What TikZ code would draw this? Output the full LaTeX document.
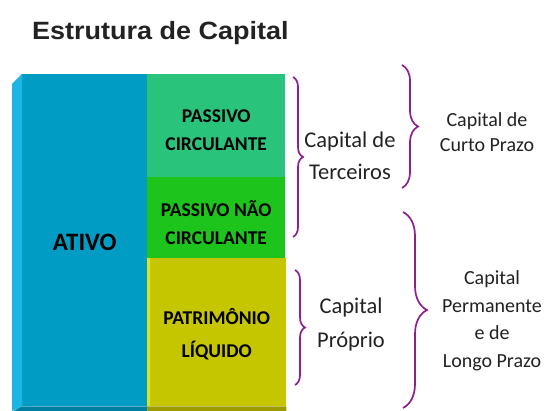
\documentclass[tikz,border=0pt]{standalone}
\usepackage{fontspec}
\setmainfont{Carlito}
\newfontfamily\titlefont{Liberation Sans}
\usetikzlibrary{decorations.pathreplacing}

\definecolor{ativoblue}{HTML}{009CC4}
\definecolor{ativolight}{HTML}{1CB6E4}
\definecolor{ativodark}{HTML}{007FA3}
\definecolor{pcgreen}{HTML}{2AC37C}
\definecolor{pncgreen}{HTML}{1CC41C}
\definecolor{plolive}{HTML}{C6C600}
\definecolor{pllight}{HTML}{E2E21A}
\definecolor{pldark}{HTML}{9C9C00}
\definecolor{bracepurple}{HTML}{8E1F8E}
\definecolor{textgray}{HTML}{222222}

\tikzset{
	block/.style={anchor=north west, inner sep=0pt},
	blocktext/.style={align=center, text=black, inner sep=0pt, font=\bfseries\fontsize{19.5}{28}\selectfont},
	bracket/.style={draw=bracepurple, line width=1.7pt, decorate, decoration={brace, amplitude=#1}},
	caption/.style={align=center, text=textgray, inner sep=0pt},
}

\begin{document}
\begin{tikzpicture}[x=1pt,y=-1pt]
	\useasboundingbox (0,0) rectangle (547,411);
	\node (title) [anchor=base west, inner sep=0pt, xscale=1.08, text=textgray, font=\titlefont\bfseries\fontsize{25}{30}\selectfont] at (32,40) {Estrutura de Capital};

	\node (ativo) [block, fill=ativoblue, minimum width=125pt, minimum height=332pt, label={[blocktext, yshift=-2pt, font=\bfseries\fontsize{25}{30}\selectfont]center:ATIVO}] at (22,74) {};
	\node (pc) [block, fill=pcgreen, minimum width=138pt, minimum height=103pt, label={[blocktext, yshift=-4pt]center:PASSIVO\\CIRCULANTE}] at (147,74) {};
	\node (pnc) [block, fill=pncgreen, minimum width=138pt, minimum height=81pt, label={[blocktext, yshift=-5pt]center:PASSIVO NÃO\\CIRCULANTE}] at (147,177) {};
	\node (pl) [block, fill=plolive, minimum width=139pt, minimum height=148pt, label={[blocktext, yshift=-2pt, font=\bfseries\fontsize{19.5}{33}\selectfont]center:PATRIMÔNIO\\LÍQUIDO}] at (147,258) {};

	\fill[ativolight] (ativo.north west) -- ++(-10,10) -- ++(0,327) -- (ativo.south west) -- cycle;
	\fill[ativodark] (ativo.south west) -- (ativo.south east) -- ++(0,5) -- ++(-135,0) -- cycle;
	\fill[pllight] (pl.north west) -- ++(3,0) -- ++(0,148) -- ++(-3,0) -- cycle;
	\fill[pldark] (pl.south west) -- (pl.south east) -- ++(0,5) -- ++(-139,0) -- cycle;

	\coordinate (b1t) at (293,77);
	\coordinate (b1b) at (293,237);
	\coordinate (b2t) at (295,270);
	\coordinate (b2b) at (295,385);
	\coordinate (b3t) at (402,65);
	\coordinate (b3b) at (402,188);
	\coordinate (b4t) at (403,212);
	\coordinate (b4b) at (403,408);

	\draw[bracket=10pt] (b1t) -- (b1b);
	\draw[bracket=10pt] (b2t) -- (b2b);
	\draw[bracket=16pt] (b3t) -- (b3b);
	\draw[bracket=24pt] (b4t) -- (b4b);

	\node (terceiros) [caption, font=\fontsize{22.5}{32}\selectfont] at (350,156) {Capital de\\Terceiros};
	\node (proprio) [caption, font=\fontsize{22.5}{34}\selectfont] at (351,325) {Capital\\Próprio};
	\node (curto) [caption, font=\fontsize{20}{25}\selectfont] at (487,132) {Capital de\\Curto Prazo};
	\node (longo) [caption, font=\fontsize{20}{27.5}\selectfont] at (492,321) {Capital\\Permanente\\e de\\Longo Prazo};
\end{tikzpicture}
\end{document}
